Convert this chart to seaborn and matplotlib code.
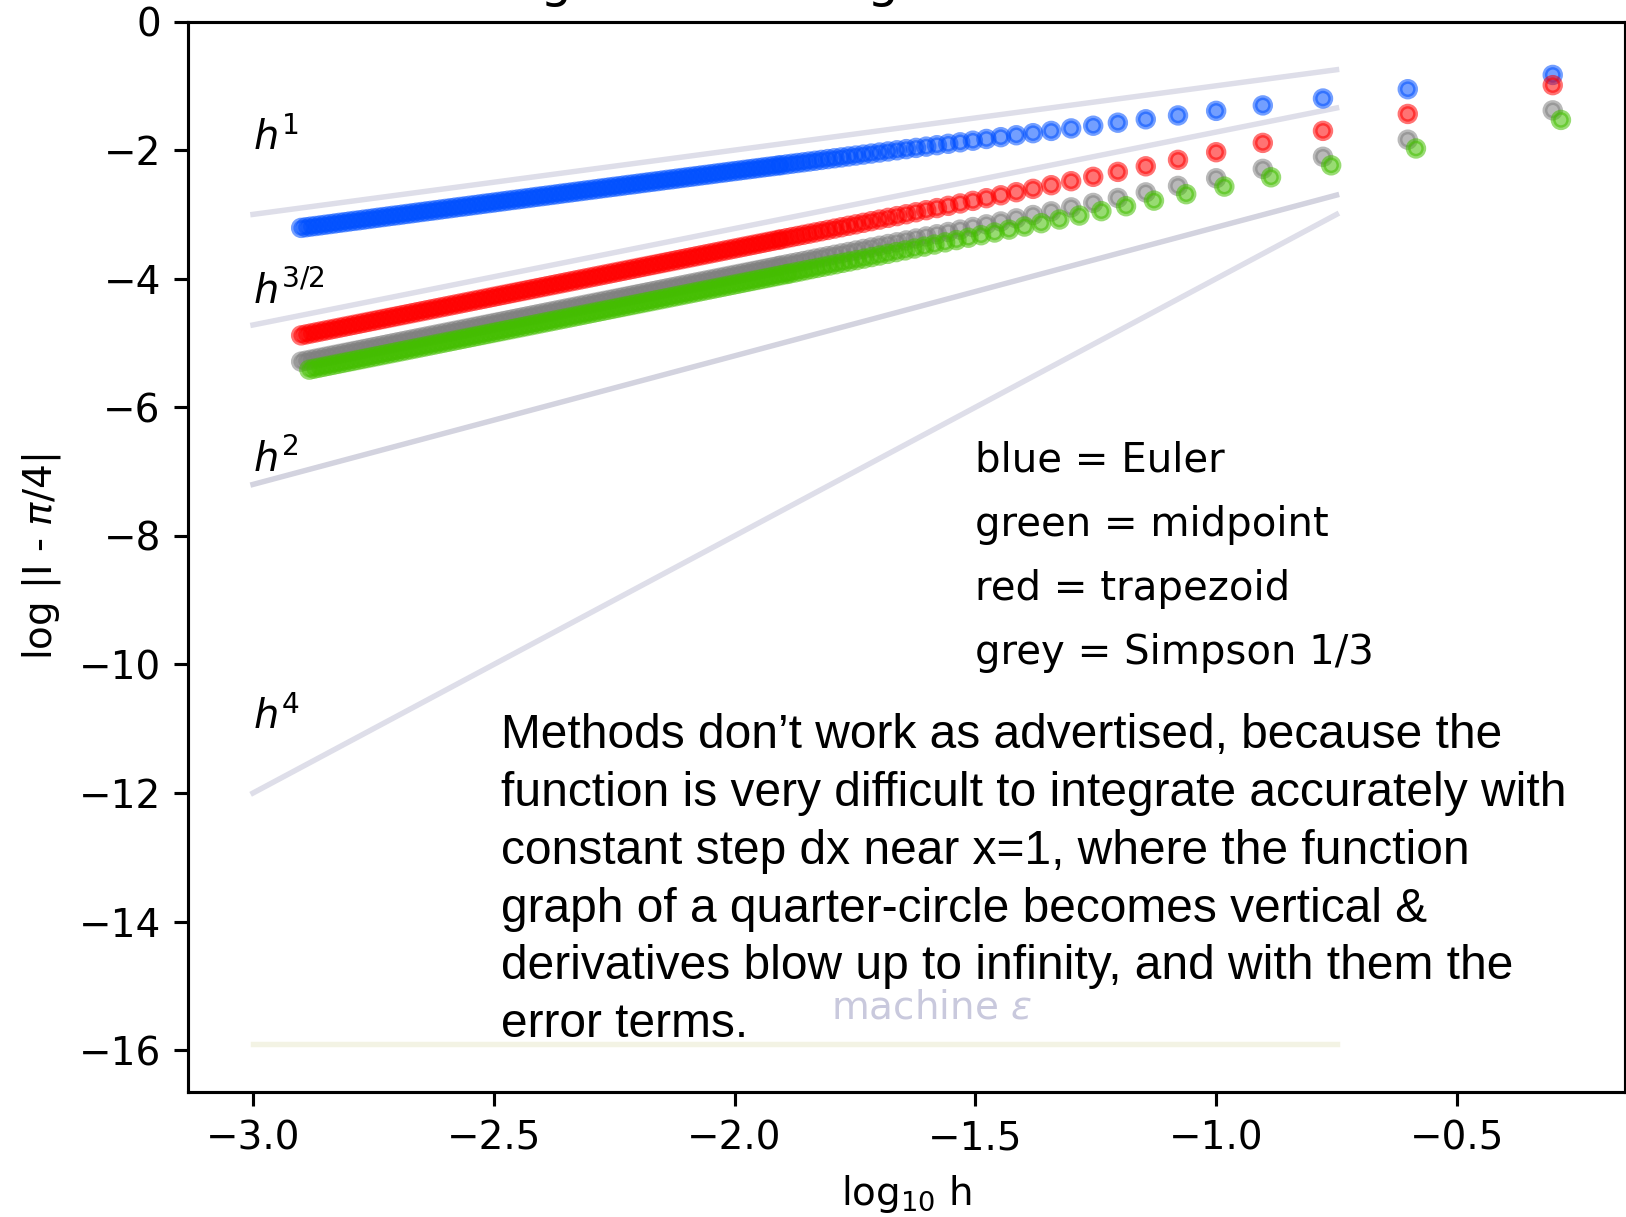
import numpy as np
import pandas as pd
import matplotlib
matplotlib.use("Agg")
import matplotlib.pyplot as plt
import seaborn as sns

# ---- step counts whose points are individually visible (h = 1/N) ----
n_steps = [2, 4, 6, 8, 10, 12, 14, 16, 18, 20,
           22, 24, 26, 28, 30, 32, 34, 36, 38, 40,
           42, 44, 46, 48, 50, 52, 54, 56, 58, 60,
           62, 64, 66, 68, 70, 72, 74, 76, 78, 80]

euler_sparse = [-0.831, -1.053, -1.198, -1.305, -1.390, -1.461, -1.521, -1.574, -1.621, -1.663,
                -1.702, -1.737, -1.769, -1.799, -1.827, -1.854, -1.879, -1.902, -1.924, -1.946,
                -1.966, -1.985, -2.003, -2.021, -2.038, -2.054, -2.070, -2.085, -2.099, -2.114,
                -2.127, -2.140, -2.153, -2.166, -2.178, -2.190, -2.201, -2.212, -2.223, -2.234]
trap_sparse = [-0.990, -1.438, -1.701, -1.888, -2.033, -2.152, -2.252, -2.339, -2.416, -2.484,
               -2.546, -2.603, -2.655, -2.703, -2.748, -2.790, -2.830, -2.867, -2.902, -2.935,
               -2.967, -2.998, -3.027, -3.054, -3.081, -3.106, -3.131, -3.155, -3.177, -3.200,
               -3.221, -3.242, -3.262, -3.281, -3.300, -3.318, -3.336, -3.353, -3.370, -3.387]
simpson_sparse = [-1.382, -1.838, -2.104, -2.292, -2.438, -2.557, -2.658, -2.745, -2.822, -2.891,
                  -2.953, -3.010, -3.062, -3.110, -3.155, -3.197, -3.237, -3.274, -3.309, -3.343,
                  -3.375, -3.405, -3.434, -3.461, -3.488, -3.514, -3.538, -3.562, -3.585, -3.607,
                  -3.628, -3.649, -3.669, -3.688, -3.707, -3.726, -3.744, -3.761, -3.778, -3.794]
mid_sparse = [-1.531, -1.975, -2.237, -2.423, -2.568, -2.686, -2.786, -2.873, -2.950, -3.018,
              -3.080, -3.137, -3.189, -3.237, -3.282, -3.324, -3.363, -3.400, -3.435, -3.469,
              -3.501, -3.531, -3.560, -3.587, -3.614, -3.640, -3.664, -3.688, -3.711, -3.733,
              -3.754, -3.775, -3.795, -3.814, -3.833, -3.851, -3.869, -3.887, -3.904, -3.920]

# ---- fine steps, where the points merge into a solid band ----
log_h_band = [-1.91, -1.92, -1.93, -1.94, -1.95, -1.96, -1.97, -1.98, -1.99, -2.00,
              -2.01, -2.02, -2.03, -2.04, -2.05, -2.06, -2.07, -2.08, -2.09, -2.10,
              -2.11, -2.12, -2.13, -2.14, -2.15, -2.16, -2.17, -2.18, -2.19, -2.20,
              -2.21, -2.22, -2.23, -2.24, -2.25, -2.26, -2.27, -2.28, -2.29, -2.30,
              -2.31, -2.32, -2.33, -2.34, -2.35, -2.36, -2.37, -2.38, -2.39, -2.40,
              -2.41, -2.42, -2.43, -2.44, -2.45, -2.46, -2.47, -2.48, -2.49, -2.50,
              -2.51, -2.52, -2.53, -2.54, -2.55, -2.56, -2.57, -2.58, -2.59, -2.60,
              -2.61, -2.62, -2.63, -2.64, -2.65, -2.66, -2.67, -2.68, -2.69, -2.70,
              -2.71, -2.72, -2.73, -2.74, -2.75, -2.76, -2.77, -2.78, -2.79, -2.80,
              -2.81, -2.82, -2.83, -2.84, -2.85, -2.86, -2.87, -2.88, -2.89, -2.90]

euler_band = [-2.240, -2.250, -2.260, -2.269, -2.279, -2.289, -2.298, -2.308, -2.318, -2.327,
              -2.337, -2.347, -2.356, -2.366, -2.376, -2.386, -2.395, -2.405, -2.415, -2.424,
              -2.434, -2.444, -2.454, -2.463, -2.473, -2.483, -2.493, -2.502, -2.512, -2.522,
              -2.532, -2.541, -2.551, -2.561, -2.571, -2.580, -2.590, -2.600, -2.610, -2.620,
              -2.629, -2.639, -2.649, -2.659, -2.668, -2.678, -2.688, -2.698, -2.708, -2.717,
              -2.727, -2.737, -2.747, -2.757, -2.767, -2.776, -2.786, -2.796, -2.806, -2.816,
              -2.825, -2.835, -2.845, -2.855, -2.865, -2.875, -2.884, -2.894, -2.904, -2.914,
              -2.924, -2.934, -2.944, -2.953, -2.963, -2.973, -2.983, -2.993, -3.003, -3.013,
              -3.022, -3.032, -3.042, -3.052, -3.062, -3.072, -3.082, -3.092, -3.101, -3.111,
              -3.121, -3.131, -3.141, -3.151, -3.161, -3.171, -3.181, -3.190, -3.200, -3.210]
trap_band = [-3.397, -3.412, -3.427, -3.442, -3.457, -3.472, -3.487, -3.502, -3.517, -3.532,
             -3.547, -3.562, -3.577, -3.592, -3.607, -3.622, -3.637, -3.652, -3.667, -3.682,
             -3.697, -3.712, -3.727, -3.742, -3.757, -3.772, -3.787, -3.802, -3.817, -3.832,
             -3.847, -3.862, -3.877, -3.892, -3.907, -3.922, -3.937, -3.952, -3.967, -3.982,
             -3.997, -4.012, -4.027, -4.042, -4.057, -4.072, -4.087, -4.102, -4.117, -4.132,
             -4.147, -4.162, -4.177, -4.192, -4.207, -4.222, -4.237, -4.252, -4.267, -4.282,
             -4.297, -4.312, -4.327, -4.342, -4.357, -4.372, -4.387, -4.402, -4.417, -4.432,
             -4.447, -4.462, -4.477, -4.492, -4.507, -4.522, -4.537, -4.552, -4.567, -4.582,
             -4.597, -4.612, -4.627, -4.642, -4.657, -4.672, -4.687, -4.702, -4.717, -4.732,
             -4.747, -4.762, -4.777, -4.792, -4.807, -4.822, -4.837, -4.852, -4.867, -4.882]
simpson_band = [-3.805, -3.820, -3.835, -3.850, -3.865, -3.880, -3.895, -3.910, -3.925, -3.940,
                -3.955, -3.970, -3.985, -4.000, -4.015, -4.030, -4.045, -4.060, -4.075, -4.090,
                -4.105, -4.120, -4.135, -4.150, -4.165, -4.180, -4.195, -4.210, -4.225, -4.240,
                -4.255, -4.270, -4.285, -4.300, -4.315, -4.330, -4.345, -4.360, -4.375, -4.390,
                -4.405, -4.420, -4.435, -4.450, -4.465, -4.480, -4.495, -4.510, -4.525, -4.540,
                -4.555, -4.570, -4.585, -4.600, -4.615, -4.630, -4.645, -4.660, -4.675, -4.690,
                -4.705, -4.720, -4.735, -4.750, -4.765, -4.780, -4.795, -4.810, -4.825, -4.840,
                -4.855, -4.870, -4.885, -4.900, -4.915, -4.930, -4.945, -4.960, -4.975, -4.990,
                -5.005, -5.020, -5.035, -5.050, -5.065, -5.080, -5.095, -5.110, -5.125, -5.140,
                -5.155, -5.170, -5.185, -5.200, -5.215, -5.230, -5.245, -5.260, -5.275, -5.290]
mid_band = [-3.930, -3.945, -3.960, -3.975, -3.990, -4.005, -4.020, -4.035, -4.050, -4.065,
            -4.080, -4.095, -4.110, -4.125, -4.140, -4.155, -4.170, -4.185, -4.200, -4.215,
            -4.230, -4.245, -4.260, -4.275, -4.290, -4.305, -4.320, -4.335, -4.350, -4.365,
            -4.380, -4.395, -4.410, -4.425, -4.440, -4.455, -4.470, -4.485, -4.500, -4.515,
            -4.530, -4.545, -4.560, -4.575, -4.590, -4.605, -4.620, -4.635, -4.650, -4.665,
            -4.680, -4.695, -4.710, -4.725, -4.740, -4.755, -4.770, -4.785, -4.800, -4.815,
            -4.830, -4.845, -4.860, -4.875, -4.890, -4.905, -4.920, -4.935, -4.950, -4.965,
            -4.980, -4.995, -5.010, -5.025, -5.040, -5.055, -5.070, -5.085, -5.100, -5.115,
            -5.130, -5.145, -5.160, -5.175, -5.190, -5.205, -5.220, -5.235, -5.250, -5.265,
            -5.280, -5.295, -5.310, -5.325, -5.340, -5.355, -5.370, -5.385, -5.400, -5.415]

# ---- reference slopes h^p and the machine-epsilon floor ----
guide_log_h = [-3.0, -0.75]
guide_h1 = [-3.0, -0.75]
guide_h32 = [-4.72, -1.345]
guide_h2 = [-7.2, -2.7]
guide_h4 = [-12.0, -3.0]
eps_floor = [-15.9, -15.9]

methods = ["Euler", "trapezoid", "Simpson 1/3", "midpoint"]
palette = {"Euler": "#0050ff", "trapezoid": "#ff0000",
           "Simpson 1/3": "#808080", "midpoint": "#44bf00"}
MID_NUDGE = 0.017  # small sideways shift so midpoint dots don't hide Simpson dots

log_h_sparse = list(-np.log10(np.array(n_steps, dtype=float)))
series = {
    "Euler": euler_sparse + euler_band,
    "trapezoid": trap_sparse + trap_band,
    "Simpson 1/3": simpson_sparse + simpson_band,
    "midpoint": mid_sparse + mid_band,
}
frames = []
for m in methods:
    xs = np.array(log_h_sparse + log_h_band)
    if m == "midpoint":
        xs = xs + MID_NUDGE
    frames.append(pd.DataFrame({"log_h": xs, "log_err": series[m], "method": m}))
df = pd.concat(frames, ignore_index=True)

W, H, DPI = 1626, 1217, 280
fig = plt.figure(figsize=(W / DPI, H / DPI), dpi=DPI)
ax = fig.add_axes([188 / W, 1 - 1092 / H, (1625 - 188) / W, (1092 - 21.5) / H])

guide_kw = dict(linewidth=1.4, legend=False, zorder=1)
for gy, col in [(guide_h1, "#dedee9"), (guide_h32, "#dedee9"),
                (guide_h2, "#d3d3df"), (guide_h4, "#dedee9")]:
    sns.lineplot(x=guide_log_h, y=gy, color=col, ax=ax, **guide_kw)
sns.lineplot(x=guide_log_h, y=eps_floor, color="#f3f3e4", ax=ax, **guide_kw)

sns.scatterplot(data=df, x="log_h", y="log_err", hue="method", palette=palette,
                hue_order=methods, s=16, linewidth=1.25, edgecolor="face",
                alpha=0.55, legend=False, ax=ax, zorder=2)

ax.set_xlim(-3.135, -0.151)
ax.set_ylim(-16.65, 0)
ax.set_xticks([-3.0, -2.5, -2.0, -1.5, -1.0, -0.5])
ax.set_yticks(np.arange(-16, 1, 2))
ax.set_xlabel(r"log$_{10}$ h", fontsize=10)
ax.set_ylabel(r"log |I - $\pi/4$|", fontsize=10)

for txt, yy in [(r"$h^1$", -2.0), (r"$h^{3/2}$", -4.4), (r"$h^2$", -7.0), (r"$h^4$", -11.0)]:
    ax.text(-3.0, yy, txt, fontsize=10.3, va="baseline", ha="left")

for txt, yy in [("blue = Euler", -7.0), ("green = midpoint", -8.0),
                ("red = trapezoid", -9.0), ("grey = Simpson 1/3", -10.0)]:
    ax.text(-1.5, yy, txt, fontsize=10.35, va="baseline", ha="left")

ax.text(-1.8, -15.5, r"machine $\epsilon$", fontsize=10, color="#c9c9dd",
        va="baseline", ha="left")

note = ("Methods don\u2019t work as advertised, because the\n"
        "function is very difficult to integrate accurately with\n"
        "constant step dx near x=1, where the function\n"
        "graph of a quarter-circle becomes vertical &\n"
        "derivatives blow up to infinity, and with them the\n"
        "error terms.")
ax.text(-2.485, -10.75, note, fontsize=12.3, family="Liberation Sans",
        va="top", ha="left", linespacing=1.37, color="black")

fig.text(822 / W, 1 + 3.3 / H, "Convergence of integration methods",
         fontsize=12.8, ha="center", va="baseline")

fig.savefig("out.png", dpi=DPI)
